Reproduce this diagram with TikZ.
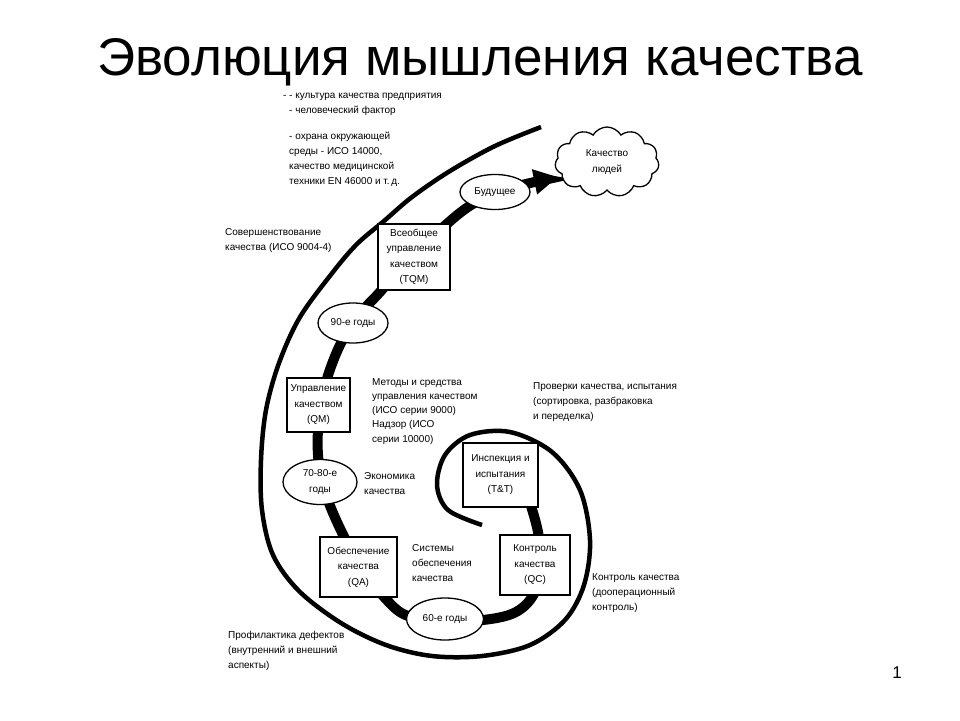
\documentclass[tikz,border=0pt]{standalone}
\usepackage{fontspec}
\setmainfont{Liberation Sans}
\usetikzlibrary{shapes.geometric,shapes.symbols,arrows.meta}
\begin{document}
\begin{tikzpicture}[x=1pt,y=-1pt,
  lbl/.style={font=\fontsize{10}{15}\selectfont, align=left, anchor=north west, inner sep=0pt},
  boxn/.style={draw, line width=1.3pt, fill=white, align=center, font=\fontsize{10}{15.5}\selectfont, inner sep=0pt},
  ell/.style={ellipse, draw, line width=1.3pt, fill=white, align=center, font=\fontsize{10}{15.5}\selectfont, inner sep=0pt},
  fat/.style={line width=10pt, line cap=butt},
  thin/.style={line width=4.5pt, line cap=butt}
]
\useasboundingbox[fill=white] (0,0) rectangle (960,720);

% title
\node[font=\fontsize{53}{57}\selectfont, inner sep=0pt, anchor=base] (title) at (480,75) {Эволюция мышления качества};

% outer thin spiral
\draw[thin] plot[smooth, tension=0.55] coordinates {
 (541,127) (495,146) (450,171) (412,197) (384,221) (357,244) (333,272) (300,317) (279,363) (266,410) (261,460) (262,510) (273,555) (299,591) (341,623) (386,645) (432,656) (482,656) (530,645) (565,620) (584,585) (590,540) (580,490) (552,452) (510,432) (470,435) (445,455) (437,485) (448,510) (482,525)};

% thick spiral with arrow
\draw[fat, -{Triangle[length=24pt,width=24pt]}] plot[smooth, tension=0.6] coordinates {
 (531,506) (538,532) (541,562) (535,592) (516,612) (483,620) (445,620) (408,616) (385,598) (358,562) (337,522) (324,488) (318,455) (319,418) (326,382) (340,345) (358,316) (380,292) (410,258) (440,230) (468,207) (497,192) (526,184) (558,177)};

% cloud
\node[cloud, cloud puffs=11, cloud puff arc=120, aspect=1.5, draw, line width=1.3pt, fill=white,
      minimum width=104pt, minimum height=70pt, inner sep=0pt, align=center,
      font=\fontsize{10}{15.5}\selectfont] (cloud) at (607,162) {Качество\\людей};

% ellipses
\node[ell, minimum width=70pt, minimum height=35pt] (fut) at (495,192) {Будущее};
\node[ell, minimum width=70pt, minimum height=40pt] (e90) at (353,323) {90-е годы};
\node[ell, minimum width=74pt, minimum height=45pt] (e7080) at (320,482) {70-80-е\\годы};
\node[ell, minimum width=77pt, minimum height=42pt] (e60) at (445,619) {60-е годы};

% boxes
\node[boxn, minimum width=72pt, minimum height=66pt] (tqm) at (414,257) {Всеобщее\\управление\\качеством\\(TQM)};
\node[boxn, minimum width=63pt, minimum height=54pt] (qm) at (318.5,405) {Управление\\качеством\\(QM)};
\node[boxn, minimum width=75pt, minimum height=64pt] (tt) at (500.5,475) {Инспекция и\\испытания\\(T\&T)};
\node[boxn, minimum width=77pt, minimum height=60pt] (qa) at (358.5,567) {Обеспечение\\качества\\(QA)};
\node[boxn, minimum width=70pt, minimum height=60pt] (qc) at (535,565) {Контроль\\качества\\(QC)};

% labels
\node[lbl] (top) at (289,93) {\llap{- }- культура качества предприятия\\- человеческий фактор\\[11pt]- охрана окружающей\\среды - ИСО 14000,\\качество медицинской\\техники EN 46000 и т.\,д.};
\node[lbl] (sov) at (225,228) {Совершенствование\\качества (ИСО 9004-4)};
\node[lbl, font=\fontsize{10}{14.3}\selectfont] (met) at (372,378) {Методы и средства\\управления качеством\\(ИСО серии 9000)\\Надзор (ИСО\\серии 10000)};
\node[lbl] (prov) at (533,382) {Проверки качества, испытания\\(сортировка, разбраковка\\и переделка)};
\node[lbl] (econ) at (364,472) {Экономика\\качества};
\node[lbl] (sys) at (412,544) {Системы\\обеспечения\\качества};
\node[lbl] (kk) at (592,573) {Контроль качества\\(дооперационный\\контроль)};
\node[lbl] (prof) at (228,631) {Профилактика дефектов\\(внутренний и внешний\\аспекты)};

% page number
\node[font=\fontsize{17}{20}\selectfont, inner sep=0pt] (pg) at (897,673) {1};
\end{tikzpicture}
\end{document}
